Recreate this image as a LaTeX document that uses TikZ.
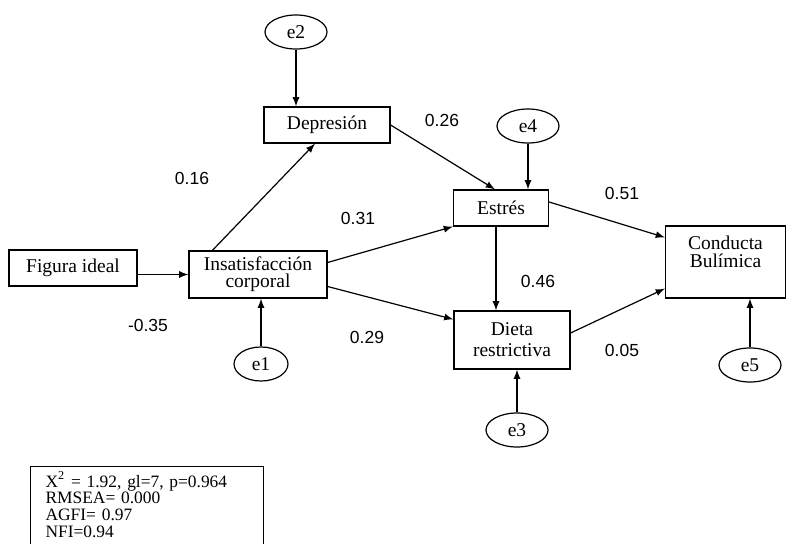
\documentclass[tikz,border=0pt]{standalone}
\usepackage{fontspec}
\setmainfont{Liberation Serif}
\newfontfamily\coeffont{Liberation Sans}
\usetikzlibrary{shapes.geometric,arrows}
\tikzset{
	var/.style    = {draw, rectangle, align=center, inner sep=1pt,
		font=\fontsize{9.75}{8.5}\selectfont},
	err/.style    = {draw, ellipse, inner sep=0pt, minimum width=31pt,
		minimum height=17pt, font=\fontsize{9.75}{10}\selectfont},
	coef/.style   = {font=\coeffont\fontsize{8.75}{10}\selectfont}, % path weights
	fitbox/.style = {draw, rectangle, anchor=north west, align=left,
		text width=101.5pt, inner xsep=7.5pt, inner ysep=2.5pt,
		font=\fontsize{8.7}{8.3}\selectfont} % fit indices
}

\begin{document}
\begin{tikzpicture}[x=0.5pt, y=-0.5pt, line width=0.6pt, >=latex]
	\useasboundingbox (0,0) rectangle (786,544);
	\draw
	node at (73,268) [var, minimum width=64pt, minimum height=18pt] (figura) {Figura ideal}
	node at (258,274.5) [var, minimum width=69pt, minimum height=23.5pt] (insat) {Insatisfacción\\corporal}
	node at (327,125) [var, minimum width=63pt, minimum height=18pt] (depre) {Depresión}
	node at (501,208) [var, minimum width=47.5pt, minimum height=18pt] (estres) {Estrés}
	node at (512,340) [var, minimum width=58pt, minimum height=29pt,
		font=\fontsize{9.75}{10.5}\selectfont] (dieta) {Dieta\\restrictiva}
	node at (725.5,262) [var, minimum width=60pt, minimum height=36pt,
		label={[align=center, anchor=north, inner sep=5pt,
			font=\fontsize{9.75}{9}\selectfont]north:Conducta\\Bulímica}] (conducta) {};
	
	\draw
	node at (296,32) [err] (e2) {e2}
	node at (528,126) [err] (e4) {e4}
	node at (261,364) [err, minimum width=27pt] (e1) {e1}
	node at (517,430) [err] (e3) {e3}
	node at (750,365) [err] (e5) {e5};
	
	\draw[->] (e2) -- (e2 |- depre.north);
	\draw[->] (e4) -- (e4 |- estres.north);
	\draw[->] (e1) -- (e1 |- insat.south);
	\draw[->] (e3) -- (e3 |- dieta.south);
	\draw[->] (e5) -- (e5 |- conducta.south);
	
	\draw[->] (figura.east |- insat.west) -- (insat.west);
	\draw[->] ([xshift=12pt]insat.north west) -- ([xshift=-6pt]depre.south);
	\draw[->] (depre.east) -- ([xshift=-3pt]estres.north);
	\draw[->] ([yshift=6pt]insat.east) -- (estres.south west);
	\draw[->] ([yshift=-6pt]insat.east) -- ([yshift=-4.5pt]dieta.north west);
	\draw[->] ([xshift=-2.5pt]estres.south) -- ([xshift=-2.5pt]estres.south |- dieta.north);
	\draw[->] ([yshift=3pt]estres.east) -- ([yshift=-6pt]conducta.north west);
	\draw[->] ([yshift=3.5pt]dieta.east) -- ([yshift=5pt]conducta.south west);
	
	\draw
	node at (442,120) [coef] (w26) {0.26}
	node at (192,178) [coef] (w16) {0.16}
	node at (358,218) [coef] (w31) {0.31}
	node at (622,193) [coef] (w51) {0.51}
	node at (538,281) [coef] (w46) {0.46}
	node at (148,325) [coef] (w35) {-0.35}
	node at (367,337) [coef] (w29) {0.29}
	node at (622,350) [coef] (w05) {0.05};
	
	\node at (30,466) [fitbox] (fit) {X\textsuperscript{2} = 1.92, gl=7, p=0.964\\
		RMSEA= 0.000\\AGFI= 0.97\\NFI=0.94\rule[-10pt]{0pt}{10pt}};
	
\end{tikzpicture}
\end{document}
